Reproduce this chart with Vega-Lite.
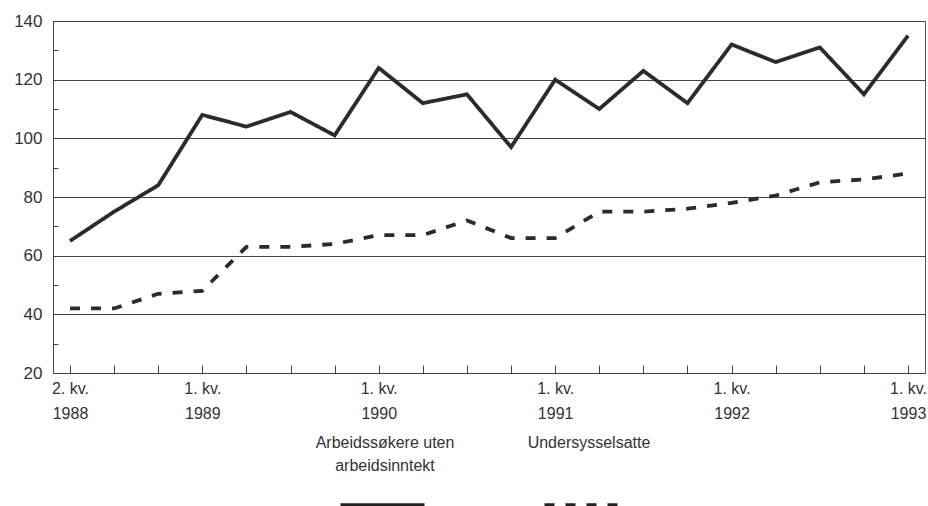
{
  "$schema": "https://vega.github.io/schema/vega-lite/v6.json",
  "width": 872,
  "height": 352,
  "autosize": {"type": "none"},
  "padding": {"left": 53, "top": 21, "right": 3, "bottom": 133},
  "background": "white",
  "config": {
    "font": "Liberation Sans",
    "view": {"stroke": "#555", "strokeWidth": 1},
    "legend": {"symbolStrokeColor": "#222"}
  },
  "data": {
    "values": [
      {"kvartal": "1988 K2", "serie": "Arbeidssøkere uten arbeidsinntekt", "verdi": 65},
      {"kvartal": "1988 K3", "serie": "Arbeidssøkere uten arbeidsinntekt", "verdi": 75},
      {"kvartal": "1988 K4", "serie": "Arbeidssøkere uten arbeidsinntekt", "verdi": 84},
      {"kvartal": "1989 K1", "serie": "Arbeidssøkere uten arbeidsinntekt", "verdi": 108},
      {"kvartal": "1989 K2", "serie": "Arbeidssøkere uten arbeidsinntekt", "verdi": 104},
      {"kvartal": "1989 K3", "serie": "Arbeidssøkere uten arbeidsinntekt", "verdi": 109},
      {"kvartal": "1989 K4", "serie": "Arbeidssøkere uten arbeidsinntekt", "verdi": 101},
      {"kvartal": "1990 K1", "serie": "Arbeidssøkere uten arbeidsinntekt", "verdi": 124},
      {"kvartal": "1990 K2", "serie": "Arbeidssøkere uten arbeidsinntekt", "verdi": 112},
      {"kvartal": "1990 K3", "serie": "Arbeidssøkere uten arbeidsinntekt", "verdi": 115},
      {"kvartal": "1990 K4", "serie": "Arbeidssøkere uten arbeidsinntekt", "verdi": 97},
      {"kvartal": "1991 K1", "serie": "Arbeidssøkere uten arbeidsinntekt", "verdi": 120},
      {"kvartal": "1991 K2", "serie": "Arbeidssøkere uten arbeidsinntekt", "verdi": 110},
      {"kvartal": "1991 K3", "serie": "Arbeidssøkere uten arbeidsinntekt", "verdi": 123},
      {"kvartal": "1991 K4", "serie": "Arbeidssøkere uten arbeidsinntekt", "verdi": 112},
      {"kvartal": "1992 K1", "serie": "Arbeidssøkere uten arbeidsinntekt", "verdi": 132},
      {"kvartal": "1992 K2", "serie": "Arbeidssøkere uten arbeidsinntekt", "verdi": 126},
      {"kvartal": "1992 K3", "serie": "Arbeidssøkere uten arbeidsinntekt", "verdi": 131},
      {"kvartal": "1992 K4", "serie": "Arbeidssøkere uten arbeidsinntekt", "verdi": 115},
      {"kvartal": "1993 K1", "serie": "Arbeidssøkere uten arbeidsinntekt", "verdi": 135},
      {"kvartal": "1988 K2", "serie": "Undersysselsatte", "verdi": 42},
      {"kvartal": "1988 K3", "serie": "Undersysselsatte", "verdi": 42},
      {"kvartal": "1988 K4", "serie": "Undersysselsatte", "verdi": 47},
      {"kvartal": "1989 K1", "serie": "Undersysselsatte", "verdi": 48},
      {"kvartal": "1989 K2", "serie": "Undersysselsatte", "verdi": 63},
      {"kvartal": "1989 K3", "serie": "Undersysselsatte", "verdi": 63},
      {"kvartal": "1989 K4", "serie": "Undersysselsatte", "verdi": 64},
      {"kvartal": "1990 K1", "serie": "Undersysselsatte", "verdi": 67},
      {"kvartal": "1990 K2", "serie": "Undersysselsatte", "verdi": 67},
      {"kvartal": "1990 K3", "serie": "Undersysselsatte", "verdi": 72},
      {"kvartal": "1990 K4", "serie": "Undersysselsatte", "verdi": 66},
      {"kvartal": "1991 K1", "serie": "Undersysselsatte", "verdi": 66},
      {"kvartal": "1991 K2", "serie": "Undersysselsatte", "verdi": 75},
      {"kvartal": "1991 K3", "serie": "Undersysselsatte", "verdi": 75},
      {"kvartal": "1991 K4", "serie": "Undersysselsatte", "verdi": 76},
      {"kvartal": "1992 K1", "serie": "Undersysselsatte", "verdi": 78},
      {"kvartal": "1992 K2", "serie": "Undersysselsatte", "verdi": 80.5},
      {"kvartal": "1992 K3", "serie": "Undersysselsatte", "verdi": 85},
      {"kvartal": "1992 K4", "serie": "Undersysselsatte", "verdi": 86},
      {"kvartal": "1993 K1", "serie": "Undersysselsatte", "verdi": 88}
    ]
  },
  "mark": {"type": "line", "strokeWidth": 3.8, "color": "#2b2b2b"},
  "encoding": {
    "x": {
      "field": "kvartal",
      "type": "ordinal",
      "sort": null,
      "scale": {"type": "point", "padding": 0.385},
      "axis": {
        "title": null,
        "labelExpr": "datum.value == '1988 K2' ? ['2. kv.', '1988'] : (indexof(datum.value, 'K1') > 0 ? ['1. kv.', substring(datum.value, 0, 4)] : '')",
        "labelAngle": 0,
        "labelOverlap": false,
        "labelBaseline": "top",
        "tickSize": -8,
        "labelPadding": 15,
        "labelFontSize": 16,
        "labelColor": "#333",
        "labelLineHeight": 25,
        "domainColor": "#444",
        "tickColor": "#444",
        "grid": false
      }
    },
    "y": {
      "field": "verdi",
      "type": "quantitative",
      "scale": {"domain": [20, 140], "nice": false, "zero": false},
      "axis": {
        "title": null,
        "values": [20, 30, 40, 50, 60, 70, 80, 90, 100, 110, 120, 130, 140],
        "labelExpr": "datum.value % 20 == 0 ? datum.label : ''",
        "tickSize": -5,
        "labelPadding": 16,
        "labelFontSize": 17,
        "labelColor": "#333",
        "domainColor": "#444",
        "tickColor": "#444",
        "grid": true,
        "gridColor": "#444",
        "gridOpacity": {"condition": {"test": "datum.value % 20 == 0 && datum.value > 20", "value": 1}, "value": 0}
      }
    },
    "strokeDash": {
      "field": "serie",
      "type": "nominal",
      "sort": null,
      "scale": {"domain": ["Arbeidssøkere uten arbeidsinntekt", "Undersysselsatte"], "range": [[1, 0], [10, 11]]},
      "legend": {
        "title": null,
        "orient": "none",
        "direction": "horizontal",
        "legendX": 285,
        "legendY": 377,
        "symbolType": "M-1,1.5L1,1.5",
        "symbolSize": 7056,
        "symbolStrokeWidth": 5,
        "symbolStrokeColor": "#222",
        "labelFontSize": 16,
        "labelColor": "#333",
        "labelAlign": "center",
        "labelOffset": -42,
        "labelLimit": 400,
        "columnPadding": 72,
        "labelExpr": "datum.label == 'Arbeidssøkere uten arbeidsinntekt' ? ['Arbeidssøkere uten', 'arbeidsinntekt'] : datum.label",
        "encode": {"labels": {"update": {"lineHeight": {"value": 23}}}}
      }
    }
  }
}
